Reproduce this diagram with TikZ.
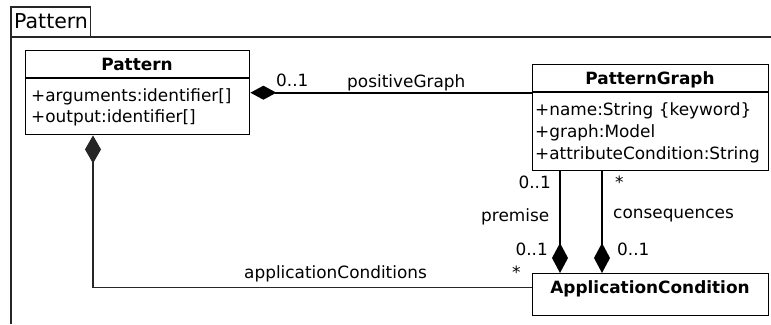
\documentclass[tikz,border=0pt]{standalone}
\usepackage{fontspec}
\setmainfont{DejaVu Sans}
\usetikzlibrary{arrows.meta}

\begin{document}
\begin{tikzpicture}[x=1pt,y=-1pt,
  classbox/.style={draw=black, line width=1.4pt, anchor=north west, inner sep=0pt},
  sepline/.style={draw=black, line width=1.4pt},
  classname/.style={font=\fontsize{16.9}{20}\selectfont\bfseries, anchor=base, inner sep=0pt},
  attr/.style={font=\fontsize{16.9}{20}\selectfont, anchor=base west, inner sep=0pt},
  lbl/.style={font=\fontsize{16.9}{20}\selectfont, anchor=base west, inner sep=0pt},
  framelabel/.style={font=\fontsize{20.5}{24}\selectfont, anchor=base west, inner sep=0pt},
  frameline/.style={draw=black!85, line width=1.2pt},
  compos/.style={draw=black, line width=1.7pt},
  compthick/.style={draw=black, line width=2.4pt},
  assocthin/.style={draw=black!85, line width=1.2pt}]
\useasboundingbox (0,0) rectangle (771,324);

% package frame with its name tab
\coordinate (ftl) at (11,7);
\coordinate (ftr) at (90.7,7);
\coordinate (fbl) at (11,324);
\coordinate (fhl) at (11,37);
\coordinate (fhr) at (771,37);
\coordinate (ftb) at (90.7,37);
\draw[frameline] (fbl) -- (ftl) -- (ftr) -- (ftb);
\draw[frameline] (fhl) -- (fhr);
\node[framelabel] (fname) at (14,28) {Pattern};

% class Pattern
\node[classbox, minimum width=224pt, minimum height=84pt] (pat) at (25,50) {};
\draw[sepline] ([yshift=-28pt]pat.north west) -- ([yshift=-28pt]pat.north east);
\node[classname] (patn) at (137,70) {Pattern};
\node[attr] (pata1) at (31,101) {+arguments:identifier[]};
\node[attr] (pata2) at (31,122.5) {+output:identifier[]};

% class PatternGraph
\node[classbox, minimum width=236pt, minimum height=106pt] (pg) at (532,64) {};
\draw[sepline] ([yshift=-28pt]pg.north west) -- ([yshift=-28pt]pg.north east);
\node[classname] (pgn) at (650,84) {PatternGraph};
\node[attr] (pga1) at (535,115) {+name:String \{keyword\}};
\node[attr] (pga2) at (535,137) {+graph:Model};
\node[attr] (pga3) at (535,159) {+attributeCondition:String};

% class ApplicationCondition
\node[classbox, minimum width=236pt, minimum height=42pt] (ac) at (532,273) {};
\node[classname] (acn) at (650,293) {ApplicationCondition};

% composition Pattern -> PatternGraph
\draw[compos, {Diamond[length=26pt,width=14pt]}-] (pat.east) -- (pat.east -| pg.west);
\node[lbl] (m1) at (276,86) {0..1};
\node[lbl] (r1) at (347,87) {positiveGraph};

% compositions ApplicationCondition -> PatternGraph
\coordinate (premtop) at ([xshift=28pt]pg.south west);
\coordinate (constop) at ([xshift=70pt]pg.south west);
\draw[compthick, -{Diamond[length=30pt,width=16pt]}] (premtop) -- (premtop |- ac.north);
\draw[compthick, -{Diamond[length=30pt,width=16pt]}] (constop) -- (constop |- ac.north);
\node[lbl, anchor=base east] (m2) at (551,188) {0..1};
\node[lbl] (m3) at (615,188) {*};
\node[lbl] (r2) at (481,221) {premise};
\node[lbl] (r3) at (613,218) {consequences};
\node[lbl, anchor=base east] (m4) at (548,255) {0..1};
\node[lbl] (m5) at (617,255) {0..1};

% composition Pattern -> ApplicationCondition
\coordinate (acstart) at ([xshift=68pt]pat.south west);
\draw[assocthin, {Diamond[length=28pt,width=16pt]}-] (acstart) |- ([yshift=7pt]ac.west);
\node[lbl] (m6) at (512,278) {*};
\node[lbl] (r4) at (244,278) {applicationConditions};
\end{tikzpicture}
\end{document}
